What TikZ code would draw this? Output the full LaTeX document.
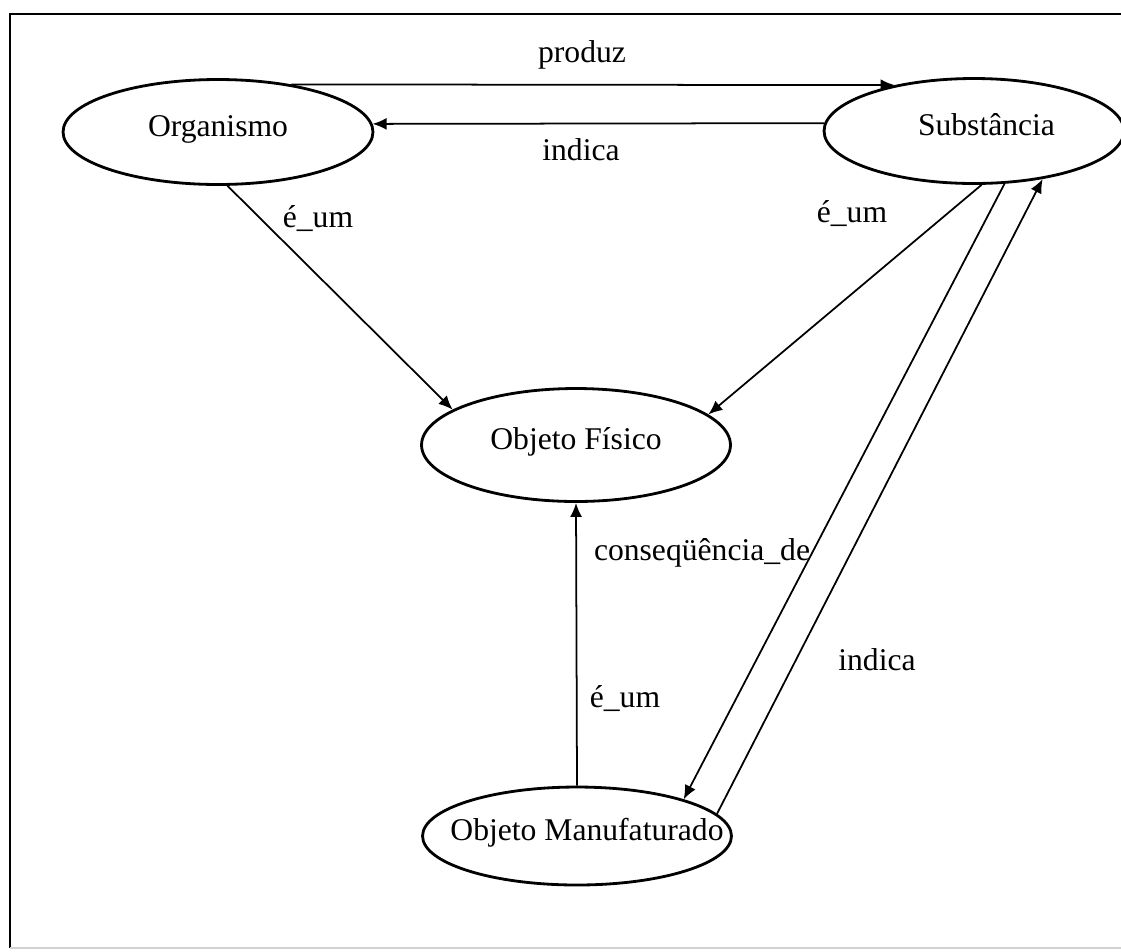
\documentclass[tikz,border=0pt]{standalone}
\usepackage{fontspec}
\setmainfont{Liberation Serif}
\usetikzlibrary{shapes.geometric, arrows.meta}
\tikzset{conceito/.style={draw, ellipse, line width=1.6pt, inner sep=0pt,
			text height=0.7em, text depth=0.22em},
	rel/.style={-{Latex[length=2.8mm,width=2.4mm]}, line width=1pt},
	rotulo/.style={anchor=base, inner sep=0pt},
}

\begin{document}
\begin{tikzpicture}[x=0.02cm, y=-0.02cm, font=\fontsize{18}{21}\selectfont]
		\path [use as bounding box] (0,0) rectangle (1121,951);
		%\draw[very thin, gray!50] (0,0) grid[step=50] (1121,951);
		\draw[line width=1.4pt] (1130,14) -- (10,14) -- (10,948);
		\draw[line width=1pt, gray!35] (10,948) -- (1130,948);
		\node[conceito, minimum width=6.2cm, minimum height=2.1cm] at (218,132) (org) {Organismo};
		\node[conceito, minimum width=6cm, minimum height=2.1cm] at (974,131) (sub) {\hspace*{0.5cm}Substância};
		\node[conceito, minimum width=6.18cm, minimum height=2.26cm] at (576,445) (fis) {Objeto Físico};
		% o texto passa da borda da elipse
		\node[conceito, minimum width=6.18cm, minimum height=1.96cm] at (577,836) (man) {\makebox[0pt]{\hspace*{0.4cm}Objeto Manufaturado}};
		\draw[rel] (org.33) -- (sub.150);
		\draw[rel] (sub.177) -- (org.3);
		\draw[rel] (org.-80) -- (fis.164);
		\draw[rel] (sub.-82) -- (fis.13);
		\draw[rel] (man.north) -- (fis.south);
		\draw[rel] (sub.-60) -- (man.19);
		\draw[rel] (man.9) -- (sub.-35);
		\node[rotulo] at (582,62) (lprod) {produz};
		\node[rotulo] at (581,160) (lind1) {indica};
		\node[rotulo] at (318,227) (lum1) {é\_um};
		\node[rotulo] at (852,222) (lum2) {é\_um};
		\node[rotulo] at (702,560) (lcons) {conseqüência\_de};
		\node[rotulo] at (625,707) (lum3) {é\_um};
		\node[rotulo] at (877,670) (lind2) {indica};
	\end{tikzpicture}
\end{document}
